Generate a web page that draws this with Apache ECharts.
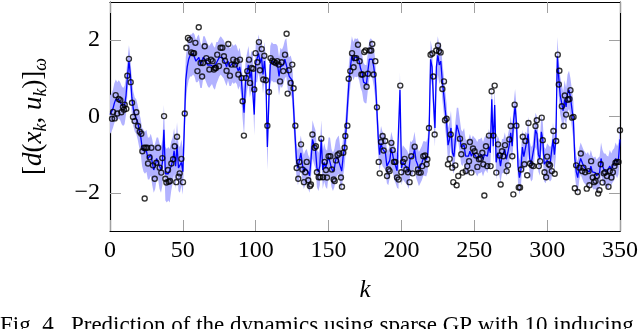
<!DOCTYPE html>
<html><head><meta charset="utf-8">
<script src="https://cdn.jsdelivr.net/npm/echarts@6/dist/echarts.min.js"></script>
<style>html,body{margin:0;padding:0;background:#fff}#c{width:640px;height:329px}</style>
</head><body><div id="c"></div>
<script>
// x ticks and y ticks
const xTicks = [0, 50, 100, 150, 200, 250, 300, 350];
const yTicks = [-2, 0, 2];

// GP predictive mean at k = 0..350
const meanValues = [
 0.05,0.1,0.2,0.35,0.45,0.4,0.45,0.4,0.3,0.25,
 0.3,0.55,1.05,1.45,1.1,0.5,0.2,0.05,0.0,-0.15,
 -0.35,-0.5,-0.8,-0.9,-0.95,-0.9,-1.1,-1.1,-1.0,-1.2,
 -1.4,-1.3,-1.1,-1.1,-1.3,-1.4,-1.2,-0.35,-1.5,-1.55,
 -1.5,-1.55,-1.3,-1.15,-0.9,-1.3,-0.75,-1.35,-1.4,-1.2,
 -1.45,-0.3,0.95,1.3,1.5,1.6,1.6,1.65,1.6,1.45,
 1.5,1.55,1.35,1.3,1.55,1.55,1.45,1.35,1.3,1.35,
 1.4,1.3,1.25,1.4,1.45,1.55,1.6,1.55,1.5,1.4,
 1.3,1.45,1.3,1.3,1.4,1.35,1.4,1.35,1.2,1.3,
 1.05,0.5,0.1,0.9,1.15,1.35,1.0,1.2,1.2,0.05,
 1.4,1.4,1.65,1.4,1.55,1.1,1.45,1.0,-0.8,0.4,
 1.35,1.45,1.4,1.4,1.4,1.35,1.05,1.3,1.25,1.35,
 1.5,1.55,1.2,1.05,1.1,0.95,0.2,-0.5,-1.15,-1.35,
 -1.15,-0.95,-1.25,-1.45,-1.35,-1.3,-1.45,-1.55,-1.1,-0.6,
 -0.75,-0.86,-1.35,-1.45,-1.3,-0.6,-1.4,-1.2,-1.35,-1.4,
 -1.05,-1.05,-1.35,-1.45,-1.35,-1.12,-1.05,-1.0,-1.3,-1.43,
 -1.05,-0.8,-0.35,0.3,0.9,1.3,1.6,1.45,1.55,1.53,
 1.55,1.45,1.25,1.15,0.9,0.85,0.85,1.2,1.5,1.55,
 1.5,1.3,1.0,0.3,-0.5,-1.0,-0.7,-0.85,-0.9,-0.95,
 -1.3,-1.35,-1.15,-0.85,-1.0,-1.2,-1.3,-1.42,-1.45,0.7,
 -1.35,-1.2,-1.25,-1.3,-1.35,-1.45,-1.1,-1.12,-1.05,-0.85,
 -1.15,-1.25,-1.38,-1.3,-1.22,-1.1,-1.1,-1.12,-1.0,-0.4,
 1.5,1.3,0.4,-0.3,1.3,1.6,1.35,1.45,0.95,0.6,
 0.18,-0.15,-0.75,-0.6,-0.3,-0.95,-1.05,-0.6,-0.22,-0.22,
 -0.5,-0.8,-0.85,-0.75,-1.04,-1.08,-1.04,-0.91,-1.04,-0.95,
 -1.0,-1.04,-1.12,-1.04,-1.04,-1.0,-1.12,-1.0,-0.95,-1.04,
 -0.78,-0.95,0.45,-0.78,0.3,-1.2,-0.95,-1.04,-1.3,-1.04,
 -1.04,-0.86,-1.12,-0.95,-0.75,-0.43,-0.78,-0.1,0.27,-0.2,
 -1.3,-1.6,-1.4,-0.8,-1.05,-0.85,-0.9,-0.45,-1.1,-1.25,
 -1.2,-0.8,-0.35,-0.45,-1.0,-1.1,-0.4,-0.6,-1.25,-1.3,
 -1.15,-1.2,-1.25,-1.2,-0.6,-1.0,-0.6,1.58,1.0,0.55,
 0.35,0.15,0.45,0.25,0.6,0.7,0.5,0.2,-0.1,-1.1,
 -1.45,-1.6,-1.25,-1.1,-1.2,-1.3,-1.35,-1.4,-1.35,-1.45,
 -1.3,-1.45,-1.5,-1.47,-1.55,-1.5,-1.47,-1.1,-1.3,-1.39,
 -1.39,-1.45,-1.47,-1.3,-1.39,-1.3,-1.25,-1.1,-1.2,-1.1,-0.6
];

// half width of the confidence band at k = 0..350
const bandHalfWidth = [
 0.5,0.5,0.5,0.52,0.52,0.5,0.5,0.5,0.5,0.5,
 0.5,0.5,0.45,0.42,0.45,0.45,0.45,0.45,0.45,0.45,
 0.45,0.45,0.5,0.55,0.55,0.55,0.55,0.55,0.55,0.6,
 0.6,0.6,0.55,0.55,0.6,0.6,0.6,0.65,0.7,0.7,
 0.7,0.7,0.65,0.6,0.6,0.6,0.6,0.6,0.6,0.6,
 0.6,0.65,0.6,0.55,0.55,0.55,0.55,0.55,0.55,0.55,
 0.6,0.6,0.6,0.55,0.55,0.55,0.55,0.55,0.55,0.55,
 0.55,0.55,0.55,0.55,0.5,0.5,0.5,0.5,0.5,0.5,
 0.5,0.5,0.5,0.5,0.5,0.5,0.5,0.5,0.5,0.5,
 0.5,0.55,0.6,0.55,0.5,0.5,0.5,0.5,0.5,0.55,
 0.5,0.5,0.5,0.5,0.5,0.5,0.5,0.5,0.6,0.55,
 0.5,0.5,0.5,0.5,0.5,0.5,0.5,0.5,0.5,0.5,
 0.5,0.5,0.5,0.5,0.5,0.5,0.5,0.5,0.45,0.45,
 0.45,0.45,0.45,0.45,0.45,0.45,0.45,0.45,0.45,0.5,
 0.5,0.5,0.5,0.5,0.5,0.5,0.5,0.5,0.5,0.5,
 0.5,0.5,0.5,0.5,0.5,0.5,0.5,0.5,0.5,0.5,
 0.5,0.5,0.5,0.5,0.5,0.5,0.5,0.5,0.5,0.5,
 0.5,0.5,0.5,0.5,0.5,0.5,0.5,0.5,0.5,0.5,
 0.5,0.5,0.5,0.5,0.45,0.45,0.45,0.45,0.45,0.45,
 0.45,0.45,0.45,0.45,0.45,0.45,0.45,0.45,0.45,0.45,
 0.45,0.45,0.45,0.45,0.45,0.45,0.45,0.45,0.45,0.45,
 0.45,0.45,0.45,0.45,0.45,0.45,0.45,0.45,0.45,0.5,
 0.5,0.5,0.5,0.5,0.5,0.5,0.5,0.5,0.5,0.5,
 0.5,0.5,0.45,0.45,0.45,0.45,0.45,0.45,0.45,0.45,
 0.45,0.45,0.45,0.45,0.45,0.45,0.45,0.45,0.45,0.45,
 0.45,0.45,0.45,0.45,0.45,0.45,0.45,0.45,0.45,0.45,
 0.45,0.45,0.45,0.45,0.45,0.45,0.45,0.45,0.45,0.45,
 0.45,0.45,0.45,0.45,0.45,0.45,0.45,0.45,0.45,0.45,
 0.45,0.45,0.45,0.45,0.45,0.45,0.45,0.45,0.45,0.45,
 0.45,0.45,0.45,0.45,0.45,0.45,0.45,0.45,0.45,0.45,
 0.45,0.45,0.45,0.45,0.45,0.45,0.45,0.5,0.5,0.5,
 0.5,0.5,0.5,0.5,0.5,0.5,0.5,0.5,0.5,0.45,
 0.42,0.42,0.42,0.42,0.42,0.42,0.42,0.42,0.42,0.42,
 0.42,0.42,0.42,0.42,0.42,0.42,0.42,0.42,0.42,0.42,
 0.42,0.42,0.42,0.42,0.42,0.42,0.42,0.42,0.42,0.42,0.45
];

// observed samples: k positions and values
const observedK = [
 1.4,2.1,3.2,3.9,5.0,6.0,7.1,7.8,8.9,9.6,10.1,11.2,11.9,13.0,14.2,15.1,15.8,16.9,18.1,19.2,
 20.4,21.5,22.2,23.3,23.8,24.5,25.6,26.1,27.2,28.4,29.5,30.7,31.8,33.0,34.1,35.2,35.9,37.1,38.0,38.7,
 39.8,40.3,41.2,42.1,43.3,44.4,45.5,46.0,47.1,47.8,49.0,50.1,51.3,52.4,53.5,54.7,55.8,57.0,57.7,58.6,
 60.0,60.9,62.2,63.2,63.8,65.0,66.1,67.3,68.2,
 69.3,70.4,71.3,72.0,72.7,73.6,74.8,75.9,77.1,78.2,78.9,80.0,81.2,82.3,83.5,84.6,85.8,86.9,88.1,89.2,
 90.3,91.0,91.9,93.3,94.2,95.4,96.1,97.2,98.3,99.0,99.9,101.1,102.2,102.9,104.1,105.2,105.9,107.0,108.0,109.1,
 110.2,111.4,112.5,113.7,114.8,115.7,116.7,117.8,118.9,120.1,121.2,121.9,122.8,124.0,125.1,126.0,127.2,128.1,129.2,129.9,
 131.1,132.0,133.1,134.0,135.0,136.1,137.2,137.9,138.9,
 140.4,141.3,142.0,143.2,144.3,145.0,146.2,147.3,148.2,148.9,150.0,151.2,152.3,153.5,154.2,155.1,156.2,157.4,158.5,159.2,
 160.1,161.0,161.5,162.9,163.8,164.9,166.1,167.2,167.9,169.0,170.2,171.3,172.5,173.4,174.5,175.4,176.1,177.0,178.2,179.3,
 180.0,180.9,182.1,183.2,184.4,185.1,186.0,187.1,187.8,188.9,190.1,191.2,191.9,193.1,194.0,194.9,195.8,197.0,198.1,199.2,
 199.9,201.1,202.2,203.4,204.5,205.6,206.8,207.7,209.1,
 211.3,212.0,213.2,214.3,215.0,216.2,217.3,217.8,218.9,220.0,221.2,221.9,222.8,223.9,225.1,225.8,226.9,228.1,229.2,229.9,
 231.0,231.9,233.1,233.8,234.9,235.6,237.0,237.9,239.0,240.2,241.1,242.0,242.9,244.1,245.2,246.4,247.0,248.0,249.1,250.2,
 251.2,252.1,253.2,254.4,255.5,256.2,256.9,258.0,258.9,260.1,261.2,261.9,263.1,264.0,265.1,266.3,267.4,268.1,269.0,269.9,
 271.1,272.2,273.1,274.0,275.0,276.1,276.8,277.7,278.9,
 280.5,281.4,282.1,283.3,284.4,285.1,286.3,287.2,288.3,289.5,290.6,292.0,292.9,294.3,295.2,296.3,297.0,298.2,299.3,300.0,
 301.1,302.0,303.2,304.3,305.2,306.2,307.3,308.0,308.4,310.1,311.4,312.1,313.0,314.2,315.3,316.0,317.1,318.1,319.0,319.9,
 321.0,322.2,323.1,324.0,324.9,326.1,327.2,328.4,329.0,330.2,331.3,332.2,333.2,334.1,335.0,335.9,336.8,338.0,338.9,339.8,
 341.0,342.1,343.0,344.1,345.1,346.2,346.9,347.8,349.0,350.0
];
const observedV = [
 -0.06,0.12,-0.05,0.56,0.08,0.46,0.43,0.11,0.25,0.18,0.31,0.2,1.07,1.51,0.9,0.36,-0.01,-0.12,0.11,-0.25,
 -0.4,-0.45,-0.91,-0.82,-2.15,-0.82,-0.82,-1.23,-1.07,-0.82,-1.28,-1.63,-1.21,-0.82,-1.34,-1.47,-1.09,0.01,-1.63,-1.73,
 -1.4,-1.71,-1.69,-1.23,-1.12,-0.78,-1.72,-0.53,-1.58,-1.49,-1.11,-1.72,0.08,1.8,2.06,2.01,1.68,1.66,1.66,1.93,
 1.19,2.34,1.4,1.05,1.4,1.84,1.53,1.45,1.23,
 1.49,1.45,1.23,1.27,1.27,1.62,1.32,1.8,1.8,1.58,1.46,1.2,1.9,1.07,1.36,1.49,1.36,1.45,1.1,1.49,
 1.01,0.4,-0.5,1.01,1.19,1.49,0.88,1.27,1.25,0.71,1.66,1.42,1.95,1.21,1.77,0.97,1.59,0.95,-0.24,0.64,
 1.53,1.46,1.43,1.4,1.45,1.36,0.92,1.42,1.19,1.62,2.17,0.6,1.21,0.88,1.36,0.74,-0.24,-1.35,-1.63,-1.19,
 -0.73,-1.39,-1.72,-1.46,-1.19,-1.67,-1.82,-1.78,-0.47,
 -0.82,-0.78,-1.46,-1.59,-1.59,-0.58,-1.59,-1.19,-1.4,-1.6,-1.04,-1.04,-1.39,-1.65,-1.69,-1.15,-1.01,-0.97,-1.6,-1.84,
 -0.95,-0.82,-0.51,-0.24,0.99,1.19,1.66,1.29,1.53,1.53,1.88,1.45,1.1,1.1,1.69,1.73,0.78,1.12,1.73,1.73,
 1.9,1.1,1.45,0.24,-1.19,-1.49,-0.67,-0.51,-0.89,-0.64,-1.56,-1.39,-1.43,-0.69,-0.88,-1.19,-1.19,-1.6,-1.65,0.81,
 -1.46,-1.19,-1.11,-1.39,-1.46,-1.72,-1.04,-1.49,-0.79,
 -1.39,-1.47,-1.47,-1.3,-1.04,-1.02,-1.25,-1.12,-0.3,1.62,1.65,1.05,-0.47,1.73,1.86,1.71,1.68,0.72,0.92,-0.1,
 -0.06,-1.25,-1.11,-0.47,-1.34,-1.72,-1.28,-1.8,-1.56,-0.58,-0.99,-1.47,-0.78,-1.43,-1.3,-1.17,-0.67,-1.47,-0.84,-0.91,
 -1.02,-1.32,-1.12,-1.11,-0.95,-1.25,-2.07,-0.78,-1.3,-0.5,-1.3,0.66,-0.5,0.81,-1.47,-0.73,-1.02,-1.78,-0.91,-1.04,
 -0.75,-1.43,-1.28,-0.6,-0.25,-1.04,-2.04,0.31,-0.24,
 -1.86,-1.86,-1.39,-0.53,-1.25,-0.64,-1.54,-0.17,-1.23,-1.28,-1.3,-0.25,-0.1,-1.3,-1.17,-0.03,-0.62,-1.46,-1.59,-1.05,
 -1.25,-1.28,-1.43,-0.38,-1.5,-0.64,1.62,0.84,1.2,0.27,-0.25,0.55,0.05,0.44,0.46,0.69,-0.03,-0.01,-1.88,-1.28,
 -1.98,-1.34,-0.97,-1.43,-1.34,-1.46,-1.89,-1.43,-1.8,-1.17,-1.6,-1.72,-1.69,-1.56,-2.02,-1.93,-1.25,-1.73,-1.49,-1.46,
 -1.56,-1.84,-1.43,-1.6,-1.46,-1.3,-1.21,-1.19,-1.19,-0.36
];

const serif = 'Liberation Serif';
const bandFill = 'rgb(178,178,255)';

const meanData = meanValues.map((m, i) => [i, m]);
const bandData = meanValues.map((m, i) => [i, m - bandHalfWidth[i], m + bandHalfWidth[i]]);
const obsData = observedK.map((k, i) => [k, observedV[i]]);

const tickStyle = { show: true, inside: true, length: 11, lineStyle: { color: '#a0a0a0', width: 1 } };
const lineStyleAxis = { show: true, onZero: false, lineStyle: { color: '#000', width: 1.2 } };
const fmt = v => String(v).replace('-', '\u2212');

const chart = echarts.init(document.getElementById('c'), null, { renderer: 'canvas' });
chart.setOption({
  animation: false,
  backgroundColor: '#fff',
  grid: { left: 110, right: 20, top: 2, bottom: 98, outerBoundsMode: 'none' },
  xAxis: [
    { type: 'value', min: 0, max: 350, interval: 50, position: 'bottom',
      axisLine: lineStyleAxis, axisTick: tickStyle, splitLine: { show: false },
      axisLabel: { color: '#000', fontFamily: serif, fontSize: 24, margin: 8 },
      name: 'k', nameLocation: 'middle', nameGap: 47,
      nameTextStyle: { color: '#000', fontFamily: serif, fontSize: 25, fontStyle: 'italic' } },
    { type: 'value', min: 0, max: 350, interval: 50, position: 'top',
      axisLine: lineStyleAxis, axisTick: tickStyle, splitLine: { show: false }, axisLabel: { show: false } }
  ],
  yAxis: [
    { type: 'value', min: -3, max: 3, position: 'left',
      axisLine: lineStyleAxis, splitLine: { show: false },
      axisTick: Object.assign({ customValues: yTicks }, tickStyle),
      axisLabel: { customValues: yTicks, color: '#000', fontFamily: serif, fontSize: 24, margin: 10, formatter: fmt },
      name: '{b|[}{i|d}{b|(}{i|x}{s|k}{b|, }{i|u}{s|k}{b|)]}{s|\u03c9}',
      nameLocation: 'middle', nameGap: 60, nameRotate: 90,
      nameTextStyle: { color: '#000', fontFamily: serif, fontSize: 27,
        rich: {
          b: { fontFamily: serif, fontSize: 27, lineHeight: 32, color: '#000' },
          i: { fontFamily: serif, fontSize: 27, fontStyle: 'italic', lineHeight: 32, color: '#000' },
          s: { fontFamily: serif, fontSize: 18, fontStyle: 'italic', lineHeight: 18, verticalAlign: 'bottom', color: '#000' }
        } } },
    { type: 'value', min: -3, max: 3, position: 'right',
      axisLine: lineStyleAxis, splitLine: { show: false },
      axisTick: Object.assign({ customValues: yTicks }, tickStyle),
      axisLabel: { show: false } }
  ],
  series: [
    { type: 'custom', name: 'band', data: bandData, encode: { x: 0, y: [1, 2] }, clip: true, silent: true, z: 1,
      renderItem: function (params, api) {
        if (params.dataIndexInside !== 0) return null;
        const up = [], lo = [];
        for (let i = 0; i < bandData.length; i++) {
          up.push(api.coord([bandData[i][0], bandData[i][2]]));
          lo.push(api.coord([bandData[i][0], bandData[i][1]]));
        }
        return { type: 'polygon', shape: { points: up.concat(lo.reverse()) }, style: { fill: bandFill, stroke: null } };
      } },
    { type: 'line', name: 'mean', data: meanData, symbol: 'none', silent: true, z: 2,
      lineStyle: { color: '#0000ff', width: 1.3 } },
    { type: 'scatter', name: 'obs', data: obsData, symbol: 'circle', symbolSize: 5, silent: true, z: 3,
      itemStyle: { color: 'rgba(0,0,0,0)', borderColor: '#000', borderWidth: 1.4 } }
  ],
  graphic: [
    { type: 'text', left: 0, top: 314, silent: true,
      style: { text: 'Fig. 4.  Prediction of the dynamics using sparse GP with 10 inducing', fill: '#000',
        font: '23px "Liberation Serif"' } }
  ]
});
</script>
</body></html>
